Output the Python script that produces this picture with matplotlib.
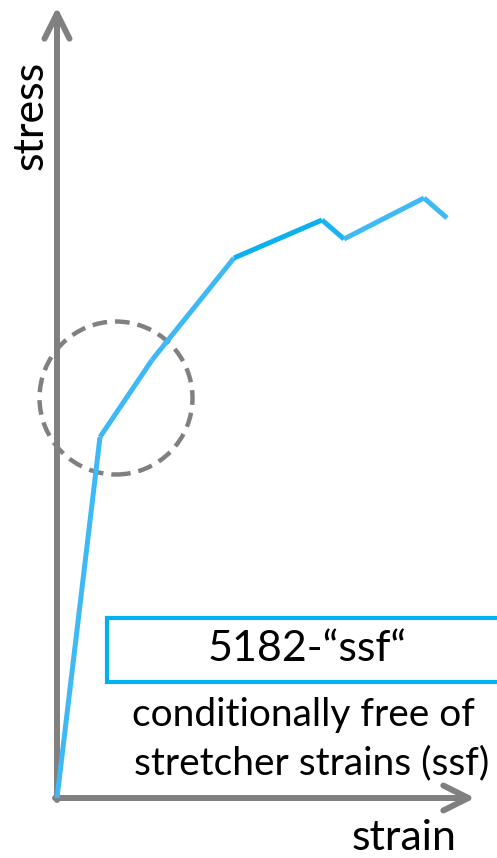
import matplotlib
matplotlib.use("Agg")
import matplotlib.pyplot as plt
from matplotlib.patches import Circle, Rectangle

# schematic stress-strain curve (arbitrary units)
strain = [0, 4.3, 9.5, 17.7, 26.5, 28.7, 36.7, 39.0]
stress = [0, 36.1, 43.8, 54.0, 57.8, 55.9, 60.0, 58.0]
seg_colors = ["#3FB9F6", "#3FB9F6", "#3FB9F6", "#0AB0F0", "#1DB2F2", "#3FB9F6", "#3FB9F6"]

label_x = "strain"
label_y = "stress"
box_text = "5182-\u201cssf\u201c"
note_lines = ["conditionally free of", "stretcher strains (ssf)"]

plt.rcParams["font.family"] = ["Lato", "DejaVu Sans"]

fig = plt.figure(figsize=(4.97, 8.58), dpi=100)
ax = fig.add_axes([0, 0, 1, 1])
ax.set_xlim(-5.7, 44.0)
ax.set_ylim(-6.0, 79.8)
ax.axis("off")

gray = "#808080"
# axes with arrow heads
arrow = dict(arrowstyle="->,head_length=0.9,head_width=0.45", color=gray,
             lw=4.3, mutation_scale=20, shrinkA=0, shrinkB=0)
ax.annotate("", xy=(41.8, 0), xytext=(-0.2, 0), arrowprops=arrow)
ax.annotate("", xy=(0, 79.1), xytext=(0, -0.2), arrowprops=arrow)

# curve
for i in range(len(strain) - 1):
    ax.plot(strain[i:i + 2], stress[i:i + 2], color=seg_colors[i], lw=3.6,
            solid_capstyle="butt", solid_joinstyle="miter", zorder=3)

# dashed circle around the knee
ax.add_patch(Circle((5.9, 40.0), 7.65, fill=False, ec=gray, lw=3.2,
                    ls=(0, (3.3, 1.8)), zorder=2))

# label box
ax.add_patch(Rectangle((5.0, 11.6), 40.0, 6.4, fill=True, fc="white",
                       ec="#00B0F0", lw=3, zorder=4))
ax.text(25.0, 14.9, box_text, ha="center", va="center", fontsize=31, zorder=5)
ax.text(24.6, 8.3, note_lines[0], ha="center", va="center", fontsize=28, zorder=5)
ax.text(25.5, 3.5, note_lines[1], ha="center", va="center", fontsize=28, zorder=5)

ax.text(34.7, -4.0, label_x, ha="center", va="center", fontsize=31)
ax.text(-2.6, 68.3, label_y, ha="center", va="center", fontsize=31, rotation=90)

fig.savefig("out.png", dpi=100)
